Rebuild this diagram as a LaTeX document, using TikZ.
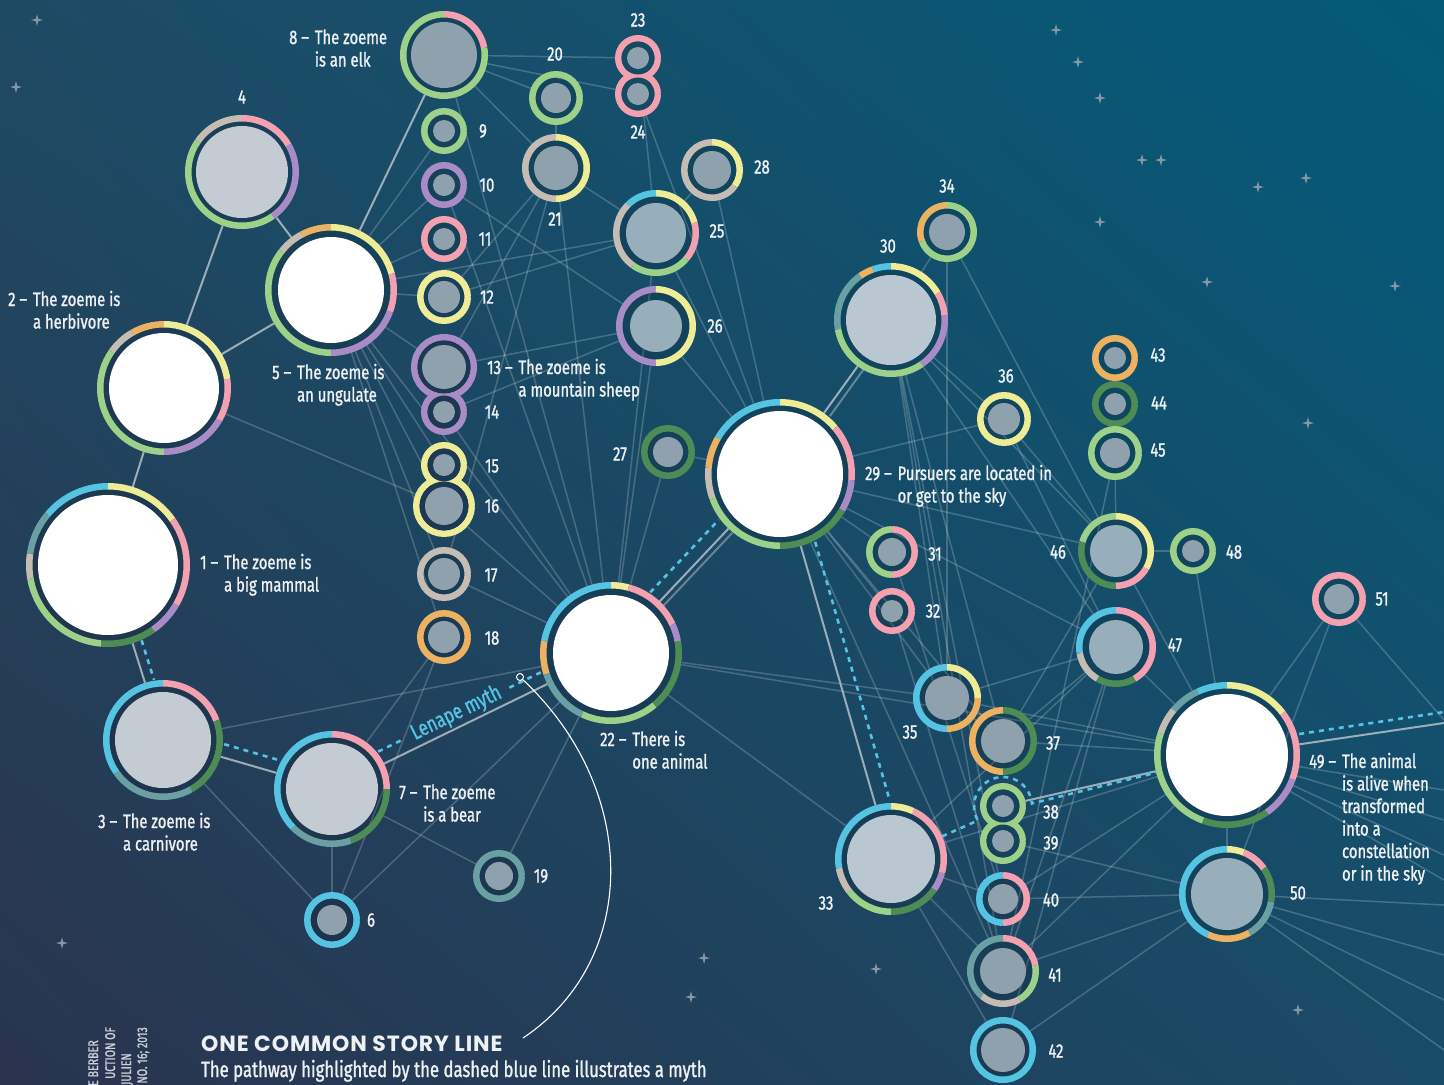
\documentclass[tikz,border=0pt]{standalone}
\usepackage{fontspec}
\setmainfont{Fira Sans}[FakeStretch = 0.76, FakeBold = 1.2]
\newfontfamily\headFont{Poppins}[LetterSpace = 4]
\usetikzlibrary{calc, shadings}
\definecolor{bgTopLeft}{HTML}{1F4A64}
\definecolor{bgTopRight}{HTML}{025B79}
\definecolor{bgBottomLeft}{HTML}{29344F}
\definecolor{bgBottomRight}{HTML}{1A4B67}
\definecolor{ringGreen}{HTML}{9DD18A}
\definecolor{ringDkGreen}{HTML}{4E8C55}
\definecolor{ringPink}{HTML}{F3A1B1}
\definecolor{ringPurple}{HTML}{A98CC5}
\definecolor{ringYellow}{HTML}{EEEC97}
\definecolor{ringOrange}{HTML}{EDB162}
\definecolor{ringBeige}{HTML}{C5BDB3}
\definecolor{ringCyan}{HTML}{55C4E3}
\definecolor{ringTeal}{HTML}{6A9FA4}
\definecolor{coreGrey}{HTML}{8FA1AD}
\definecolor{coreSlate}{HTML}{97AFBB}
\definecolor{corePale}{HTML}{C4CBD3}
\definecolor{coreMist}{HTML}{B8C7D0}
\definecolor{pairNavy}{HTML}{1C3852}
\definecolor{pairTeal}{HTML}{164962}
\definecolor{pairSea}{HTML}{17425C}
\definecolor{linkGrey}{HTML}{B3BFC8}
\definecolor{mythBlue}{HTML}{55C4E3}
\definecolor{labelWhite}{HTML}{EEF1F3}
\definecolor{starGrey}{HTML}{8797A6}
\definecolor{creditGrey}{HTML}{C9D0D8}
\tikzstyle{skyChart} = [x = 1pt, y = -1pt]
\tikzstyle{motifSpot} = [circle, inner sep = 0, outer sep = 0]
\tikzstyle{ringArc} = [line width = 6.5pt]
\tikzstyle{gapDisc} = [fill = black, fill opacity = .12]
\tikzstyle{faintLink} = [color = white, opacity = .2, line width = 1.5pt]
\tikzstyle{strongLink} = [color = linkGrey, opacity = .85, line width = 2pt]
\tikzstyle{mythDash} = [color = mythBlue, line width = 2.6pt, dash pattern = on 5pt off 5pt]
\tikzstyle{labelText} = [font = \fontsize{19.5}{22.5}\selectfont, inner sep = 0, text = labelWhite]
\tikzstyle{leadText} = [font = \fontsize{22}{26}\selectfont, inner sep = 0, text = labelWhite]
\tikzstyle{lenapeText} = [font = \fontsize{22}{24}\selectfont, inner sep = 0, text = mythBlue]
\tikzstyle{titleText} = [font = \headFont\bfseries\fontsize{22}{26}\selectfont, inner sep = 0, text = labelWhite]
\tikzstyle{creditText} = [font = \fontsize{14}{16}\selectfont, inner sep = 0, text = creditGrey, rotate = 90, anchor = base east]
\tikzstyle{markerDot} = [circle, draw = white, line width = 1pt, minimum size = 7pt, inner sep = 0]
\tikzstyle{noteCurve} = [color = white, line width = 1.1pt]
\tikzstyle{starStyle} = [fill = starGrey]
\newcommand{\sparkle}[2]{\fill [starStyle] (#1,#2) +(0,-6) -- +(1.2,-1.2) -- +(6,0) -- +(1.2,1.2) -- +(0,6) -- +(-1.2,1.2) -- +(-6,0) -- +(-1.2,-1.2) -- cycle;}
\newcommand{\ring}[3]{
  \pgfmathsetmacro{\arcR}{#2 - 3.25}
  \foreach \from/\to/\tone in {#3} {
    \draw [ringArc, color = \tone] (m#1.center) ++(-\from:\arcR) arc [start angle = -\from, end angle = -\to, radius = \arcR];
  }
}
\newcommand{\storyLabel}[3]{\node [labelText, anchor = base west] (label#1) at (#2) {\begin{tabular}[t]{@{}l@{\hspace{.3em}}l@{}}#1~--&#3\end{tabular}};}
\newcommand{\motifList}{1/108/565/82/70/white, 2/164/388/67/55/white, 3/163/740/60/48/corePale, 4/242/172/57/46/corePale,
  5/331/290/66/53/white, 6/332/920/28/15/coreGrey, 7/332/789/58/46/corePale, 8/444/55/44/33/coreGrey,
  9/444/131/23/11/coreGrey, 10/444/185/23/11/coreGrey, 11/444/239/23/11/coreGrey, 12/444/297/27/16/coreGrey,
  13/444/367/33/22/coreGrey, 14/444/412/23/11/coreGrey, 15/444/465/23/11/coreGrey, 16/444/506/31/19/coreGrey,
  17/444/574/27/16/coreGrey, 18/444/637/27/16/coreGrey, 19/499/876/26/14/coreGrey, 20/556/98/27/15/coreGrey,
  21/556/168/34/22/coreGrey, 22/611/653/71/58/white, 23/638/58/23/11/coreGrey, 24/638/94/23/11/coreGrey,
  25/656/233/43/30/coreSlate, 26/656/326/40/26/coreSlate, 27/668/452/27/15/coreGrey, 28/712/170/31/19/coreGrey,
  29/780/474/75/63/white, 30/891/320/57/45/coreMist, 31/892/552/26/14/coreGrey, 32/892/611/23/11/coreGrey,
  33/891/859/56/44/coreMist, 34/947/232/30/18/coreGrey, 35/947/698/34/22/coreGrey, 36/1004/419/27/16/coreGrey,
  37/1003/741/34/22/coreGrey, 38/1003/806/23/11/coreGrey, 39/1003/841/23/11/coreGrey, 40/1003/899/27/15/coreGrey,
  41/1003/971/36/23/coreGrey, 42/1003/1050/33/22/coreGrey, 43/1115/358/23/11/coreGrey, 44/1115/404/23/11/coreGrey,
  45/1115/453/27/15/coreGrey, 46/1116/551/38/26/coreSlate, 47/1116/647/40/27/coreSlate, 48/1193/551/23/11/coreGrey,
  49/1227/755/73/61/white, 50/1227/894/48/36/coreSlate, 51/1339/599/27/15/coreGrey}
\begin{document}
\begin{tikzpicture}[skyChart]
  \useasboundingbox (0,0) rectangle (1444,1085);
  \clip (0,0) rectangle (1444,1085);
  \shade [upper left = bgTopLeft, upper right = bgTopRight, lower left = bgBottomLeft, lower right = bgBottomRight] (0,0) rectangle (1444,1085);
  \foreach \x/\y in {37/20, 16/87, 1056/30, 1078/62, 1100/98, 1142/160, 1161/160, 1258/187, 1306/178, 1100/222,
    1207/282, 1395/286, 1308/423, 1298/1010, 704/958, 691/997, 876/969, 62/943} {
    \sparkle{\x}{\y}
  }

  \foreach \n/\x/\y/\R/\r/\core in \motifList {
    \node [motifSpot, minimum size = {2pt*\R}] (m\n) at (\x,\y) {};
  }
  \coordinate (skyEdgeMyth) at (1444,722);
  \coordinate (skyEdgeGrey) at (1444,723);
  \foreach \k/\y in {1/790, 2/820, 3/855, 4/880, 5/905, 6/955, 7/1000, 8/1050, 9/720} {
    \coordinate (skyEdge\k) at (1444,\y);
  }

  \foreach \a/\b in {8/20, 8/23, 8/24, 8/21, 8/22, 20/21, 21/12, 21/22, 21/25, 21/17, 5/9, 5/10, 5/11, 5/12, 5/13,
    5/15, 5/16, 5/17, 5/18, 5/22, 5/25, 2/16, 10/26, 13/26, 12/25, 14/26, 10/22, 14/22, 16/22, 17/22, 13/21,
    24/29, 23/25, 28/29, 28/25, 25/29, 26/29, 25/22, 26/22, 27/22, 27/29, 3/22, 3/6, 7/19, 7/6, 6/22, 6/18,
    7/18, 19/22, 22/33, 22/35, 22/49, 29/31, 29/32, 29/35, 29/37, 29/46, 29/47, 29/41, 29/36, 30/34, 30/36,
    30/46, 30/47, 30/37, 30/40, 30/35, 30/41, 34/35, 34/46, 36/46, 36/47, 45/46, 45/41, 46/48, 46/49, 47/49,
    46/37, 47/37, 47/35, 47/41, 47/42, 48/49, 49/51, 50/51, 49/40, 49/41, 49/37, 49/33, 49/35, 50/40, 50/41,
    50/42, 50/39, 33/41, 33/42, 33/40, 35/37, 31/40, 32/41, 49/50, 47/33} {
    \draw [faintLink] (m\a) -- (m\b);
  }
  \foreach \a/\k in {49/1, 49/2, 49/3, 49/4, 50/5, 50/6, 50/7, 50/8, 51/9} {
    \draw [faintLink] (m\a) -- (skyEdge\k);
  }
  \foreach \a/\b in {4/2, 4/5, 2/5, 2/1, 1/3, 3/7, 7/22, 22/29, 29/30, 29/33, 8/5, 38/49} {
    \draw [strongLink] (m\a) -- (m\b);
  }
  \draw [strongLink, opacity = .5, transform canvas = {shift = {(4,4)}}] (m22) -- (m29);
  \draw [strongLink, opacity = .5, transform canvas = {shift = {(6,3)}}] (m29) -- (m30);
  \draw [strongLink] (m49) -- (skyEdgeGrey);

  \draw [mythDash, transform canvas = {shift = {(9,-3)}}] (m1) -- (m3);
  \draw [mythDash, transform canvas = {shift = {(3.6,-12.5)}}] (m3) -- (m7);
  \draw [mythDash, shorten >= 155pt, transform canvas = {shift = {(-6,-12)}}] (m7) -- (m22);
  \draw [mythDash, shorten <= 146pt, transform canvas = {shift = {(-6,-12)}}] (m7) -- (m22);
  \path [transform canvas = {shift = {(-6,-12)}}] (m7) -- node [pos = .48, sloped, lenapeText] (lenapeTag) {Lenape myth} (m22);
  \draw [mythDash, transform canvas = {shift = {(-9.5,-9)}}] (m22) -- (m29);
  \draw [mythDash, transform canvas = {shift = {(14.4,-4.2)}}] (m29) -- (m33);
  \draw [mythDash] (m33) -- ($(m38) + (-210:29)$) arc [start angle = -210, end angle = -5, radius = 29] -- (m49);
  \draw [mythDash, transform canvas = {shift = {(0,-10)}}] (m49) -- (skyEdgeMyth);

  \foreach \n/\x/\y/\R/\r/\core in \motifList {
    \pgfmathsetmacro{\gapR}{\R - 3}
    \fill [gapDisc] (m\n) circle [radius = \gapR];
  }
  \ring{1}{82}{35/90/ringYellow, 90/140/ringCyan, 140/172/ringTeal, 172/190/ringBeige, 190/265/ringGreen, 265/305/ringDkGreen, 305/330/ringPurple, 330/395/ringPink}
  \ring{2}{67}{8/90/ringYellow, 90/120/ringOrange, 120/145/ringBeige, 145/270/ringGreen, 270/330/ringPurple, 330/368/ringPink}
  \ring{3}{60}{20/90/ringPink, 90/215/ringCyan, 215/300/ringTeal, 300/380/ringDkGreen}
  \ring{4}{57}{30/90/ringPink, 90/145/ringBeige, 145/305/ringGreen, 305/390/ringPurple}
  \ring{5}{66}{15/90/ringYellow, 90/118/ringOrange, 118/142/ringBeige, 142/270/ringGreen, 270/340/ringPurple, 340/375/ringPink}
  \ring{7}{58}{0/90/ringPink, 90/225/ringCyan, 225/290/ringTeal, 290/360/ringDkGreen}
  \ring{8}{44}{10/90/ringPink, 90/370/ringGreen}
  \ring{21}{34}{90/270/ringBeige, 270/450/ringYellow}
  \ring{22}{71}{75/90/ringYellow, 90/170/ringCyan, 170/198/ringOrange, 198/245/ringTeal, 245/310/ringGreen, 310/370/ringDkGreen, 10/25/ringPurple, 25/75/ringPink}
  \ring{25}{43}{15/90/ringYellow, 90/135/ringCyan, 135/235/ringBeige, 235/320/ringGreen, 320/375/ringPink}
  \ring{26}{40}{90/270/ringPurple, 270/450/ringYellow}
  \ring{28}{31}{325/450/ringYellow, 90/325/ringBeige}
  \ring{29}{75}{40/90/ringYellow, 90/150/ringCyan, 150/175/ringOrange, 175/200/ringBeige, 200/270/ringGreen, 270/330/ringDkGreen, 330/355/ringPurple, 355/400/ringPink}
  \ring{30}{57}{30/90/ringYellow, 90/110/ringCyan, 110/125/ringOrange, 125/190/ringTeal, 190/305/ringGreen, 305/365/ringPurple, 5/30/ringPink}
  \ring{31}{26}{90/270/ringGreen, 270/450/ringPink}
  \ring{33}{56}{65/90/ringYellow, 90/190/ringCyan, 190/218/ringBeige, 218/270/ringGreen, 270/325/ringDkGreen, 325/345/ringPurple, 345/425/ringPink}
  \ring{34}{30}{90/200/ringOrange, 200/450/ringGreen}
  \ring{35}{34}{0/90/ringYellow, 90/270/ringCyan, 270/360/ringOrange}
  \ring{37}{34}{90/270/ringOrange, 270/450/ringDkGreen}
  \ring{40}{27}{90/270/ringCyan, 270/450/ringPink}
  \ring{41}{36}{10/90/ringPink, 90/230/ringTeal, 230/300/ringBeige, 300/370/ringGreen}
  \ring{46}{38}{330/450/ringYellow, 90/165/ringGreen, 165/270/ringDkGreen, 270/330/ringPink}
  \ring{47}{40}{300/450/ringPink, 90/190/ringCyan, 190/240/ringBeige, 240/300/ringDkGreen}
  \ring{49}{73}{37/90/ringYellow, 90/115/ringCyan, 115/140/ringTeal, 140/162/ringBeige, 162/250/ringGreen, 250/305/ringDkGreen, 305/340/ringPurple, 340/397/ringPink}
  \ring{50}{48}{68/90/ringYellow, 90/245/ringCyan, 245/300/ringOrange, 300/350/ringTeal, 350/395/ringDkGreen, 35/68/ringPink}
  \foreach \n/\R/\hue in {6/28/ringCyan, 9/23/ringGreen, 10/23/ringPurple, 11/23/ringPink, 12/27/ringYellow,
    13/33/ringPurple, 14/23/ringPurple, 15/23/ringYellow, 16/31/ringYellow, 17/27/ringBeige, 18/27/ringOrange,
    19/26/ringTeal, 20/27/ringGreen, 23/23/ringPink, 24/23/ringPink, 27/27/ringDkGreen, 32/23/ringPink,
    36/27/ringYellow, 38/23/ringGreen, 39/23/ringGreen, 42/33/ringCyan, 43/23/ringOrange, 44/23/ringDkGreen,
    45/27/ringGreen, 48/23/ringGreen, 51/27/ringPink} {
    \ring{\n}{\R}{0/360/\hue}
  }
  \foreach \n/\rr/\hue in {13/26.5/pairNavy, 14/16.5/pairNavy, 15/16.5/pairNavy, 16/24.5/pairNavy,
    23/16.5/pairTeal, 24/16.5/pairTeal, 38/16.5/pairSea, 39/16.5/pairSea} {
    \fill [fill = \hue] (m\n) circle [radius = \rr];
  }
  \foreach \n/\x/\y/\R/\r/\core in \motifList {
    \fill [fill = \core] (m\n) circle [radius = \r];
  }

  \foreach \n/\x/\y in {4/242/97, 9/483/131, 10/487/185, 11/485/239, 12/487/297, 14/492/412, 15/492/466,
    16/492/506, 17/491/575, 18/492/638, 19/541/876, 6/371/920, 20/555/54, 21/555/219, 23/638/20, 24/638/132,
    25/717/231, 26/715/326, 27/620/454, 28/762/167, 30/888/246, 31/935/554, 32/933/611, 33/826/903, 34/947/186,
    35/910/732, 36/1006/376, 37/1053/743, 38/1051/812, 39/1051/843, 40/1051/900, 41/1055/975, 42/1056/1051,
    43/1158/355, 44/1159/403, 45/1158/450, 46/1058/552, 47/1175/645, 48/1234/552, 50/1298/893, 51/1382/599} {
    \node [labelText] (num\n) at (\x,\y) {\n};
  }
  \storyLabel{1}{200,569}{The zoeme is\\&a big mammal}
  \storyLabel{2}{8,306}{The zoeme is\\&a herbivore}
  \storyLabel{3}{98,828}{The zoeme is\\&a carnivore}
  \storyLabel{5}{272,379}{The zoeme is\\&an ungulate}
  \storyLabel{7}{399,799}{The zoeme\\&is a bear}
  \storyLabel{8}{289,44}{The zoeme\\&is an elk}
  \storyLabel{13}{487,374}{The zoeme is\\&a mountain sheep}
  \storyLabel{22}{600,746}{There is\\&one animal}
  \storyLabel{29}{865,480}{Pursuers are located in\\&or get to the sky}
  \storyLabel{49}{1309,768}{The animal\\&is alive when\\&transformed\\&into a\\&constellation\\&or in the sky}

  \node [markerDot] (lenapeDot) at (520,677) {};
  \node [titleText, anchor = base west] (storyTitle) at (201,1051) {ONE COMMON STORY LINE};
  \node [leadText, anchor = base west] (storyLine) at (201,1077) {The pathway highlighted by the dashed blue line illustrates a myth};
  \coordinate (noteEnd) at (523,1038);
  \draw [noteCurve] (lenapeDot) .. controls (640,790) and (640,960) .. (noteEnd);
  \node [creditText] (credit1) at (98,1040) {E BERBER};
  \node [creditText] (credit2) at (115,1027) {UCTION OF};
  \node [creditText] (credit3) at (131,1053) {JULIEN};
  \node [creditText] (credit4) at (147,1027) {NO. 16; 2013};
\end{tikzpicture}
\end{document}
